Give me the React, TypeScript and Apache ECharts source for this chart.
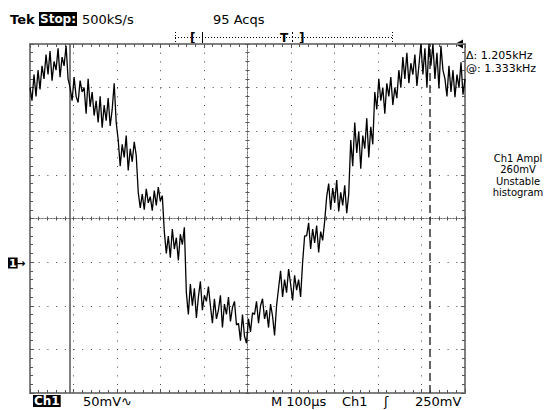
import React, { useEffect, useRef } from "react";
import * as echarts from "echarts";

// Horizontal span of the screen: 10 divisions x 100 µs
const timeSpanUs = [0, 1000];
const timeDivUs = 100;
// Vertical span: 8 divisions x 50 mV, centred on 0
const voltRangeMv = [-200, 200];
const voltDivMv = 50;

// Ch1 trace (mV), read left to right across the screen
const ch1Left = [
  150, 135, 165, 140, 170, 148,
  175, 160, 188, 165, 192, 158, 180, 170, 195, 162, 185, 175, 198, 160,
  150, 135, 162, 140, 133, 158, 145,
  150, 120, 160, 128, 145, 118,
  135, 110, 140, 104, 130, 112, 138, 106, 125,
  155, 110,
];
const ch1Fall = [
  90, 60, 85, 70, 95, 55, 80, 65, 88, 72,
  30, 12, 28, 10, 34, 18, 25, 9, 32, 15, 36, 20, 26,
  -15, -40, -20, -45, -12, -35, -22, -48, -18, -30, -10,
  -85, -110, -75, -100, -80, -114, -90, -72, -105, -88, -95, -78,
];
const ch1Bottom = [
  -100, -120, -92, -115, -105, -88, -125, -98, -110, -90, -118, -102, -95, -122,
  -120, -140, -110, -135, -143, -115, -130, -108,
  -110, -95, -120, -100, -92, -115, -105, -125, -98, -112, -134, -100,
];
const ch1Rise = [
  -80, -60, -90, -70, -85, -58, -75, -94, -65, -82, -70, -90,
  -50, -20,
  -20, -5, -35, -12, -28, -8, -39, -15, -25, -3,
  25, 40, 10, 35, 18, 44, 8, 30, 15, 38, 6, 28,
  90, 60, 110, 75, 100, 57, 95, 80, 115, 70, 105, 85,
];
const ch1Right = [
  145, 125, 160, 135, 150, 120, 155, 140, 162, 130, 150, 138,
  170, 150, 185, 160, 190, 155, 178, 165, 188, 152, 175,
  200, 165, 195, 150, 200, 175, 200, 160, 190, 149, 198, 170,
  160, 140, 175, 145, 170, 139, 165, 150, 179, 142, 160,
];
const ch1mV = [...ch1Left, ...ch1Fall, ...ch1Bottom, ...ch1Rise, ...ch1Right];

// Cursor positions (µs)
const cursorSolidUs = 92;
const cursorDashedUs = 920;

// Texts
const headerTexts = ["Tek", "Stop:", "500kS/s", "95 Acqs"];
const readoutTexts = ["\u0394: 1.205kHz", "@: 1.333kHz"];
const measureTexts = ["Ch1 Ampl", "260mV", "Unstable", "histogram"];
const footerTexts = ["Ch1", "50mV\u223F", "M 100\u00B5s", "Ch1", "\u0283", "250mV"];

const FONT = '"DejaVu Sans", "Noto Sans", sans-serif';

function txt(x: number, y: number, text: string, extra: any = {}) {
  return {
    type: "text",
    x,
    y,
    silent: true,
    style: {
      text,
      fill: "#000",
      font: `13px ${FONT}`,
      align: "left",
      verticalAlign: "middle",
      textAlign: "left",
      textVerticalAlign: "middle",
      ...extra,
    },
  };
}

function borderAxis(pos: string, min: number, max: number, interval: number) {
  return {
    type: "value",
    min,
    max,
    interval,
    position: pos,
    axisLine: { show: true, onZero: false, lineStyle: { color: "#808080", width: 2 } },
    axisTick: { show: true, inside: true, length: 4, lineStyle: { color: "#555", width: 1 } },
    minorTick: { show: true, splitNumber: 5, length: 3, lineStyle: { color: "#555", width: 1 } },
    axisLabel: { show: false },
    splitLine: { show: false },
  };
}

function centerAxis(pos: string, offset: number, inside: boolean, min: number, max: number, interval: number) {
  return {
    type: "value",
    min,
    max,
    interval,
    position: pos,
    offset,
    axisLine: { show: true, onZero: false, lineStyle: { color: "#666", width: 1, type: [1, 2] } },
    axisTick: { show: true, inside, length: 2, lineStyle: { color: "#555", width: 1 } },
    minorTick: { show: true, splitNumber: 5, length: 2, lineStyle: { color: "#555", width: 1 } },
    axisLabel: { show: false },
    splitLine: { show: false },
  };
}

export default function App() {
  const ref = useRef<HTMLDivElement>(null);

  useEffect(() => {
    if (!ref.current) return;
    const chart = echarts.init(ref.current, null, { renderer: "svg" });
    const [tMin, tMax] = timeSpanUs;
    const [vMin, vMax] = voltRangeMv;
    const step = (tMax - tMin) / (ch1mV.length - 1);
    const data = ch1mV.map((v, i) => [tMin + i * step, v]);

    const xMain: any = borderAxis("bottom", tMin, tMax, timeDivUs);
    xMain.splitLine = { show: true, lineStyle: { color: "#444", width: 1, type: [1, 7.72] } };
    const yMain: any = borderAxis("left", vMin, vMax, voltDivMv);
    yMain.splitLine = { show: true, lineStyle: { color: "#444", width: 1, type: [1, 7.7] } };

    const option: any = {
      animation: false,
      backgroundColor: "#fff",
      grid: { left: 30, top: 44, width: 435, height: 349, containLabel: false },
      xAxis: [
        xMain,
        borderAxis("top", tMin, tMax, timeDivUs),
        centerAxis("bottom", -174.5, true, tMin, tMax, timeDivUs),
        centerAxis("bottom", -174.5, false, tMin, tMax, timeDivUs),
      ],
      yAxis: [
        yMain,
        borderAxis("right", vMin, vMax, voltDivMv),
        centerAxis("left", -217.5, true, vMin, vMax, voltDivMv),
        centerAxis("left", -217.5, false, vMin, vMax, voltDivMv),
      ],
      series: [
        {
          type: "line",
          xAxisIndex: 0,
          yAxisIndex: 0,
          data,
          symbol: "none",
          showSymbol: false,
          clip: true,
          lineStyle: { color: "#000", width: 1.3 },
          z: 5,
          markLine: {
            silent: true,
            symbol: ["none", "none"],
            label: { show: false },
            data: [
              { xAxis: cursorSolidUs, lineStyle: { color: "#555", width: 1.5, type: "solid" } },
              { xAxis: cursorDashedUs, lineStyle: { color: "#333", width: 1.5, type: [8, 4] } },
            ],
          },
        },
      ],
      graphic: [
        // header
        txt(10, 19, headerTexts[0], { font: `bold 13px ${FONT}` }),
        txt(39, 19, headerTexts[1], { fill: "#fff", backgroundColor: "#000", padding: [1, 1], font: `bold 12px ${FONT}` }),
        txt(82, 19, headerTexts[2]),
        txt(213, 19, headerTexts[3]),
        // trigger position bracket
        { type: "line", silent: true, shape: { x1: 175, y1: 37.5, x2: 392, y2: 37.5 }, style: { stroke: "#000", lineWidth: 1, lineDash: [1, 2] } },
        { type: "line", silent: true, shape: { x1: 175.5, y1: 32, x2: 175.5, y2: 43 }, style: { stroke: "#000", lineWidth: 1, lineDash: [1, 2] } },
        { type: "line", silent: true, shape: { x1: 392.5, y1: 32, x2: 392.5, y2: 43 }, style: { stroke: "#000", lineWidth: 1, lineDash: [1, 2] } },
        txt(190, 38, "[", { font: `bold 12px ${FONT}` }),
        { type: "line", silent: true, shape: { x1: 202.5, y1: 32, x2: 202.5, y2: 44 }, style: { stroke: "#000", lineWidth: 1 } },
        txt(280, 38, "T", { font: `bold 12px ${FONT}` }),
        { type: "line", silent: true, shape: { x1: 292.5, y1: 32, x2: 292.5, y2: 44 }, style: { stroke: "#000", lineWidth: 1, lineDash: [2, 2] } },
        txt(299, 38, "]", { font: `bold 12px ${FONT}` }),
        // trigger level pointer
        { type: "polygon", silent: true, shape: { points: [[455, 44], [463, 39.5], [463, 48.5]] }, style: { fill: "#000" } },
        // readouts
        txt(466, 55, readoutTexts[0], { font: `11px ${FONT}` }),
        txt(466, 68, readoutTexts[1], { font: `11px ${FONT}` }),
        ...measureTexts.map((t, i) =>
          txt(518, 158 + i * 11.5, t, { align: "center", textAlign: "center", font: `10px ${FONT}` })
        ),
        // channel ground marker
        txt(8, 263, "1", { fill: "#fff", backgroundColor: "#000", padding: [0, 1], font: `bold 11px ${FONT}` }),
        txt(16, 263, "\u2192", { font: `bold 11px ${FONT}` }),
        // footer
        txt(33, 401, footerTexts[0], { fill: "#fff", backgroundColor: "#000", padding: [0, 1], font: `bold 12px ${FONT}` }),
        txt(83, 401, footerTexts[1]),
        txt(271, 401, footerTexts[2]),
        txt(342, 401, footerTexts[3]),
        txt(384, 401, footerTexts[4]),
        txt(415, 401, footerTexts[5]),
      ],
    };
    chart.setOption(option);
    return () => chart.dispose();
  }, []);

  return (
    <div
      ref={ref}
      style={{ position: "fixed", left: 0, top: 0, width: 556, height: 410, background: "#fff" }}
    />
  );
}
